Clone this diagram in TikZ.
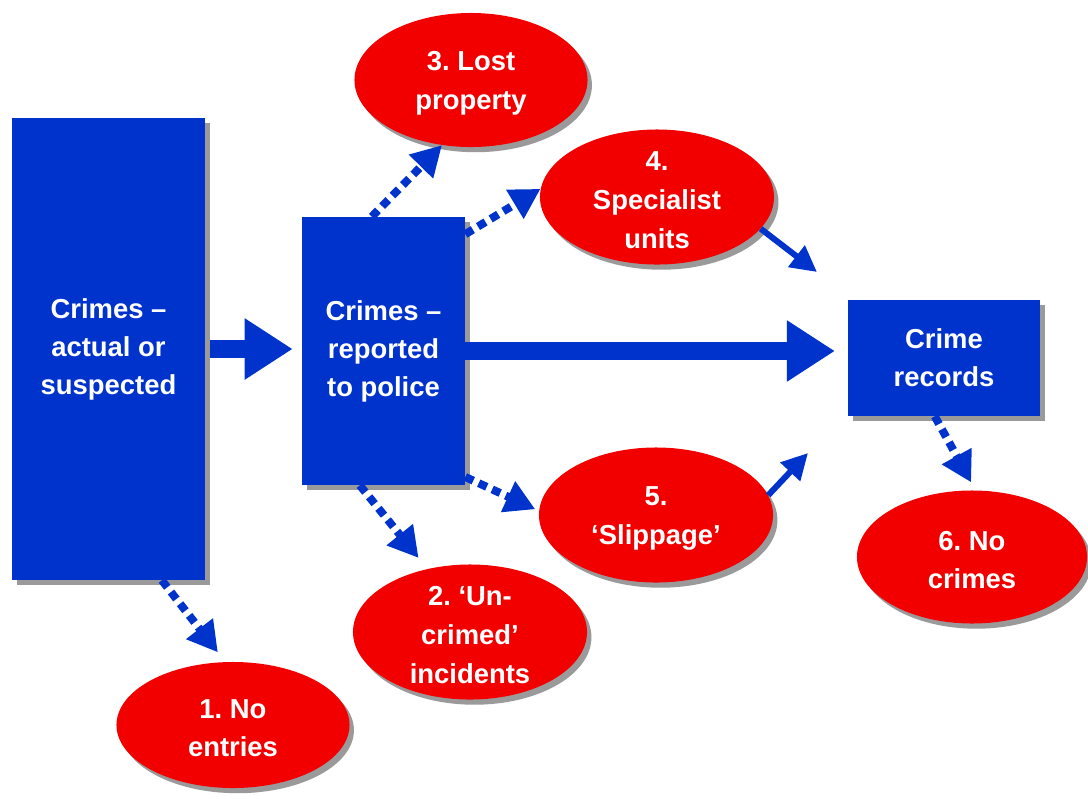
\documentclass[tikz,border=0pt]{standalone}
\usepackage{fontspec}
\setmainfont{Liberation Sans}
\usetikzlibrary{shapes.geometric, arrows.meta, shadows}
\definecolor{crimeblue}{HTML}{0033CC}
\definecolor{crimered}{HTML}{F20000}
\definecolor{shadowgrey}{HTML}{9A9A9A}
\frenchspacing

\begin{document}
\begin{tikzpicture}[x=0.025cm, y=-0.025cm,
		boxstage/.style={rectangle, fill=crimeblue, inner sep=0pt, align=center,
			text=white, font=\fontsize{19.5}{27}\selectfont\bfseries,
			drop shadow={shadow xshift=0.125cm, shadow yshift=-0.125cm, fill=shadowgrey, opacity=1}},
		oval/.style={ellipse, fill=crimered, inner sep=0pt,
			minimum width=5.85cm, minimum height=3.375cm,
			drop shadow={shadow xshift=0.11cm, shadow yshift=-0.13cm, fill=shadowgrey, opacity=1}},
		ovaltext/.style={align=center, text=white, inner sep=0pt, yshift=-0.08cm,
			font=\fontsize{19.5}{27.5}\selectfont\bfseries},
		bigarrow/.style={crimeblue, line width=0.45cm, -{Triangle[width=1.45cm, length=1.2cm]}},
		dotarrow/.style={crimeblue, line width=0.2cm, dash pattern=on 0.22cm off 0.15cm,
			-{Triangle[width=0.8cm, length=0.75cm]}},
		thinarrow/.style={crimeblue, line width=0.15cm, -{Triangle[width=0.65cm, length=0.65cm]}}]
	\useasboundingbox (0,0) rectangle (1088,798);

	% the three stages
	\node[boxstage, minimum width=4.825cm, minimum height=11.55cm] (actual) at (108.5,349)
		{Crimes --\\actual or\\suspected};
	\node[boxstage, minimum width=4.075cm, minimum height=6.7cm] (reported) at (383.5,351)
		{Crimes --\\reported\\to police};
	\node[boxstage, minimum width=4.8cm, minimum height=2.9cm] (records) at (944,358)
		{Crime\\records};

	% where crimes drop out
	\node[oval, minimum width=5.825cm, minimum height=3.15cm,
		label={[ovaltext, name=noentriestext]center:1. No\\entries}] (noentries) at (233,725) {};
	\node[oval, label={[ovaltext, name=uncrimedtext]center:2. ‘Un-\\crimed’\\incidents}] (uncrimed) at (470,632) {};
	\node[oval, minimum width=5.825cm, minimum height=3.35cm,
		label={[ovaltext, name=losttext]center:3. Lost\\property}] (lost) at (471,80) {};
	\node[oval, label={[ovaltext, name=specialisttext]center:4.\\Specialist\\units}] (specialist) at (657,197) {};
	\node[oval, label={[ovaltext, name=slippagetext]center:5.\\‘Slippage’}] (slippage) at (656,515) {};
	\node[oval, minimum width=5.75cm, minimum height=3.325cm,
		label={[ovaltext, name=nocrimestext]center:6. No\\crimes}] (nocrimes) at (972,557) {};

	\coordinate (specialistin) at (817,272);
	\coordinate (slippagein) at (808,453);

	% main flow
	\draw[bigarrow, shorten <=0.125cm, shorten >=0.225cm] (actual.east) -- (actual.east -| reported.west);
	\draw[bigarrow, shorten >=0.32cm] (reported.east) -- (reported.east -| records.west);

	% losses
	\draw[dotarrow, shorten >=0.3cm] (actual.-77.4) -- (noentries.97.8);
	\draw[dotarrow, shorten >=0.35cm] (reported.-100) -- (uncrimed.124.5);
	\draw[dotarrow] (reported.95.8) -- (lost.-114);
	\draw[dotarrow] (reported.55.6) -- (specialist.176.6);
	\draw[dotarrow, shorten >=0.1cm] (reported.-57.3) -- (slippage.178);
	\draw[dotarrow, shorten >=0.225cm] (records.-99.8) -- (nocrimes.87.9);

	% back into the records
	\draw[thinarrow] (specialist.-17) -- (specialistin);
	\draw[thinarrow] (slippage.10.2) -- (slippagein);
\end{tikzpicture}
\end{document}
